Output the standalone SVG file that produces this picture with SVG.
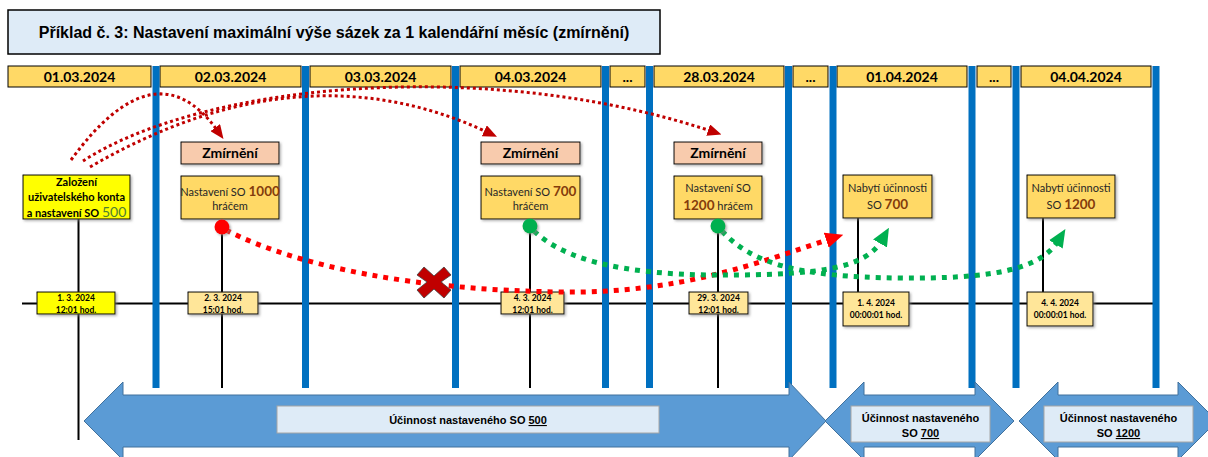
<svg xmlns="http://www.w3.org/2000/svg" width="1208" height="457" viewBox="0 0 1208 457">
<defs>
<style>
.hdr{fill:#FFD966;stroke:#000;stroke-width:1}
.hdrt{font-family:Lato,"Liberation Sans",sans-serif;font-weight:bold;font-size:14px;fill:#000;text-anchor:middle}
.bar{fill:#0070C0}
.stem{stroke:#000;stroke-width:2;fill:none}
.zm{fill:#F8CBAD;stroke:#000;stroke-width:1}
.zmt{font-family:Lato,"Liberation Sans",sans-serif;font-weight:bold;font-size:14px;fill:#000;text-anchor:middle}
.box{fill:#FFD966;stroke:#000;stroke-width:1}
.ybox{fill:#FFFF00;stroke:#000;stroke-width:1}
.dbox{fill:#FFE699;stroke:#000;stroke-width:1}
.t{font-family:Lato,"Liberation Sans",sans-serif;font-size:11px;fill:#262626;text-anchor:middle}
.tb{font-family:Lato,"Liberation Sans",sans-serif;font-size:11px;font-weight:bold;fill:#000;text-anchor:middle}
.num{font-size:13.5px;font-weight:bold;fill:#843C0C}
.dt{font-family:Lato,"Liberation Sans",sans-serif;font-size:8.5px;font-weight:bold;fill:#000;text-anchor:middle}
.arrow{fill:#5B9BD5;stroke:#41719C;stroke-width:1}
.lbl{fill:#DEEBF7;stroke:#A6A6A6;stroke-width:1}
.lt{font-family:"Liberation Sans",Arial,sans-serif;font-size:11px;font-weight:bold;fill:#000;text-anchor:middle}
.u{text-decoration:underline}
.dr{fill:none;stroke:#C00000;stroke-width:3;stroke-dasharray:3 3}
.rd{fill:none;stroke:#FF0000;stroke-width:5;stroke-dasharray:5 6}
.gd{fill:none;stroke:#00B050;stroke-width:5;stroke-dasharray:5 6}
</style>
<filter id="sh" x="-10%" y="-10%" width="130%" height="140%">
<feDropShadow dx="1.5" dy="1.5" stdDeviation="0.8" flood-color="#808080" flood-opacity="0.6"/>
</filter>
<marker id="mdr" markerUnits="userSpaceOnUse" markerWidth="14" markerHeight="12" refX="3" refY="6" orient="auto" viewBox="0 0 14 12">
<path d="M0,0 L14,6 L0,12 Z" fill="#C00000"/>
</marker>
<marker id="mrd" markerUnits="userSpaceOnUse" markerWidth="18" markerHeight="16" refX="4" refY="8" orient="auto" viewBox="0 0 18 16">
<path d="M0,0 L18,8 L0,16 Z" fill="#FF0000"/>
</marker>
<marker id="mgd" markerUnits="userSpaceOnUse" markerWidth="18" markerHeight="16" refX="4" refY="8" orient="auto" viewBox="0 0 18 16">
<path d="M0,0 L18,8 L0,16 Z" fill="#00B050"/>
</marker>
</defs>
<rect width="1208" height="457" fill="#FFFFFF"/>

<g id="title">
<rect x="8" y="10" width="652" height="44" fill="#DEEBF7" stroke="#000" stroke-width="1.5"/>
<text x="334" y="37.5" font-family="'Liberation Sans',Arial,sans-serif" font-size="16" font-weight="bold" text-anchor="middle" fill="#000">Příklad č. 3: Nastavení maximální výše sázek za 1 kalendářní měsíc (zmírnění)</text>
</g>

<g id="header">
<rect class="hdr" x="8" y="66" width="143" height="21"/><text class="hdrt" x="79.5" y="81.5">01.03.2024</text>
<rect class="hdr" x="160" y="66" width="141" height="21"/><text class="hdrt" x="230.5" y="81.5">02.03.2024</text>
<rect class="hdr" x="310" y="66" width="141" height="21"/><text class="hdrt" x="380.5" y="81.5">03.03.2024</text>
<rect class="hdr" x="460" y="66" width="141" height="21"/><text class="hdrt" x="530.5" y="81.5">04.03.2024</text>
<rect class="hdr" x="610" y="66" width="35" height="21"/><text class="hdrt" x="627.5" y="81.5">...</text>
<rect class="hdr" x="654" y="66" width="130" height="21"/><text class="hdrt" x="719" y="81.5">28.03.2024</text>
<rect class="hdr" x="793" y="66" width="35" height="21"/><text class="hdrt" x="810.5" y="81.5">...</text>
<rect class="hdr" x="837" y="66" width="130" height="21"/><text class="hdrt" x="902" y="81.5">01.04.2024</text>
<rect class="hdr" x="977" y="66" width="34" height="21"/><text class="hdrt" x="994" y="81.5">...</text>
<rect class="hdr" x="1021" y="66" width="130" height="21"/><text class="hdrt" x="1086" y="81.5">04.04.2024</text>
</g>

<g id="timeline">
<line x1="22" y1="303.5" x2="1159" y2="303.5" stroke="#000" stroke-width="2"/>
</g>

<g id="bars">
<rect class="bar" x="152.5" y="66" width="7" height="322"/>
<rect class="bar" x="302" y="66" width="7" height="322"/>
<rect class="bar" x="452" y="66" width="7" height="322"/>
<rect class="bar" x="602" y="66" width="7" height="322"/>
<rect class="bar" x="646" y="66" width="7" height="322"/>
<rect class="bar" x="785" y="66" width="7" height="322"/>
<rect class="bar" x="829.5" y="66" width="7" height="322"/>
<rect class="bar" x="968.5" y="66" width="7" height="322"/>
<rect class="bar" x="1012.5" y="66" width="7" height="322"/>
<rect class="bar" x="1152.5" y="66" width="7" height="322"/>
</g>

<g id="stems">
<line class="stem" x1="78.5" y1="219" x2="78.5" y2="440"/>
<line class="stem" x1="222" y1="227" x2="222" y2="388"/>
<line class="stem" x1="530" y1="227" x2="530" y2="388"/>
<line class="stem" x1="718" y1="227" x2="718" y2="388"/>
<line class="stem" x1="858" y1="218" x2="858" y2="292"/>
<line class="stem" x1="1043" y1="218" x2="1043" y2="292"/>
</g>

<g id="bottom-arrows">
<g id="effect-500">
<polygon class="arrow" points="84,421 123,382 123,395 789,395 789,382 826,421 789,460 789,447 123,447 123,460"/>
<rect class="lbl" x="277" y="406" width="382" height="27"/>
<text class="lt" x="468" y="424">Účinnost nastaveného SO <tspan class="u">500</tspan></text>
</g>
<g id="effect-700">
<polygon class="arrow" points="825,421 864,382 864,395 975,395 975,382 1014,421 975,460 975,447 864,447 864,460"/>
<rect class="lbl" x="851" y="406" width="139" height="36"/>
<text class="lt" x="920.5" y="422">Účinnost nastaveného</text>
<text class="lt" x="920.5" y="437">SO <tspan class="u">700</tspan></text>
</g>
<g id="effect-1200">
<polygon class="arrow" points="1019,421 1058,382 1058,395 1178,395 1178,382 1217,421 1178,460 1178,447 1058,447 1058,460"/>
<rect class="lbl" x="1044" y="406" width="149" height="36"/>
<text class="lt" x="1118.5" y="422">Účinnost nastaveného</text>
<text class="lt" x="1118.5" y="437">SO <tspan class="u">1200</tspan></text>
</g>
</g>

<g id="node-zalozeni">
<rect class="ybox" x="23" y="175" width="107" height="44" filter="url(#sh)"/>
<text class="tb" x="76.5" y="186">Založení</text>
<text class="tb" x="76.5" y="201">uživatelského konta</text>
<text class="tb" x="76.5" y="217">a nastavení SO <tspan font-size="14" font-weight="normal" fill="#507E32">500</tspan></text>
</g>

<g id="node-zm1">
<rect class="zm" x="181" y="142" width="98" height="22" filter="url(#sh)"/>
<text class="zmt" x="230" y="158">Zmírnění</text>
</g>
<g id="node-so1000">
<rect class="box" x="181" y="176" width="98" height="43" filter="url(#sh)"/>
<text class="t" x="230" y="195.5">Nastavení SO <tspan class="num">1000</tspan></text>
<text class="t" x="230" y="210">hráčem</text>
</g>

<g id="node-zm2">
<rect class="zm" x="481" y="142" width="99" height="22" filter="url(#sh)"/>
<text class="zmt" x="530.5" y="158">Zmírnění</text>
</g>
<g id="node-so700">
<rect class="box" x="481" y="176" width="99" height="43" filter="url(#sh)"/>
<text class="t" x="530.5" y="195.5">Nastavení SO <tspan class="num">700</tspan></text>
<text class="t" x="530.5" y="210">hráčem</text>
</g>

<g id="node-zm3">
<rect class="zm" x="674" y="142" width="88" height="22" filter="url(#sh)"/>
<text class="zmt" x="718" y="158">Zmírnění</text>
</g>
<g id="node-so1200">
<rect class="box" x="674" y="176" width="88" height="43" filter="url(#sh)"/>
<text class="t" x="718" y="192">Nastavení SO</text>
<text class="t" x="718" y="210"><tspan class="num">1200</tspan> hráčem</text>
</g>

<g id="node-nabyti700">
<rect class="box" x="843" y="175" width="89" height="43" filter="url(#sh)"/>
<text class="t" x="887.5" y="192">Nabytí účinnosti</text>
<text class="t" x="887.5" y="209">SO <tspan class="num">700</tspan></text>
</g>
<g id="node-nabyti1200">
<rect class="box" x="1027" y="175" width="88" height="43" filter="url(#sh)"/>
<text class="t" x="1071" y="192">Nabytí účinnosti</text>
<text class="t" x="1071" y="209">SO <tspan class="num">1200</tspan></text>
</g>

<g id="dates">
<g id="date1"><rect class="ybox" x="37" y="292" width="78" height="22" filter="url(#sh)"/><text class="dt" x="76" y="301">1. 3. 2024</text><text class="dt" x="76" y="312.5">12:01 hod.</text></g>
<g id="date2"><rect class="dbox" x="188" y="292" width="70" height="22" filter="url(#sh)"/><text class="dt" x="223" y="301">2. 3. 2024</text><text class="dt" x="223" y="312.5">15:01 hod.</text></g>
<g id="date3"><rect class="dbox" x="501" y="292" width="63" height="22" filter="url(#sh)"/><text class="dt" x="532.5" y="301">4. 3. 2024</text><text class="dt" x="532.5" y="312.5">12:01 hod.</text></g>
<g id="date4"><rect class="dbox" x="689" y="292" width="59" height="22" filter="url(#sh)"/><text class="dt" x="718.5" y="301">29. 3. 2024</text><text class="dt" x="718.5" y="312.5">12:01 hod.</text></g>
<g id="date5"><rect class="dbox" x="843" y="292" width="66" height="34" filter="url(#sh)"/><text class="dt" x="876" y="306">1. 4. 2024</text><text class="dt" x="876" y="318">00:00:01 hod.</text></g>
<g id="date6"><rect class="dbox" x="1027" y="292" width="66" height="34" filter="url(#sh)"/><text class="dt" x="1060" y="306">4. 4. 2024</text><text class="dt" x="1060" y="318">00:00:01 hod.</text></g>
</g>

<g id="connectors">
<path class="dr" d="M71,160 Q155,45 217,130" marker-end="url(#mdr)"/>
<path class="dr" d="M90,167 Q300,45 487,132" marker-end="url(#mdr)"/>
<path class="dr" d="M83,161 C200,85 480,55 711,131" marker-end="url(#mdr)"/>
<path class="rd" d="M226,230 C300,268 420,290 560,292 C680,294 760,262 830,239" marker-end="url(#mrd)"/>
<path class="gd" d="M534,231 C575,270 660,276 740,275 C820,274 866,268 882,240" marker-end="url(#mgd)"/>
<path class="gd" d="M722,231 C752,264 800,277 900,278 C990,279 1040,270 1058,241" marker-end="url(#mgd)"/>
</g>

<g id="dots">
<circle cx="222" cy="227" r="7.5" fill="#FF0000" filter="url(#sh)"/>
<circle cx="530" cy="226" r="7.5" fill="#00B050" filter="url(#sh)"/>
<circle cx="718" cy="226" r="7.5" fill="#00B050" filter="url(#sh)"/>
</g>

<g id="cross">
<polygon points="417,275 424,267 434,276 444,267 451,275 441,282 451,290 444,298 434,289 424,298 417,290 427,282" fill="#C00000" stroke="#404040" stroke-width="0.8"/>
</g>
</svg>
